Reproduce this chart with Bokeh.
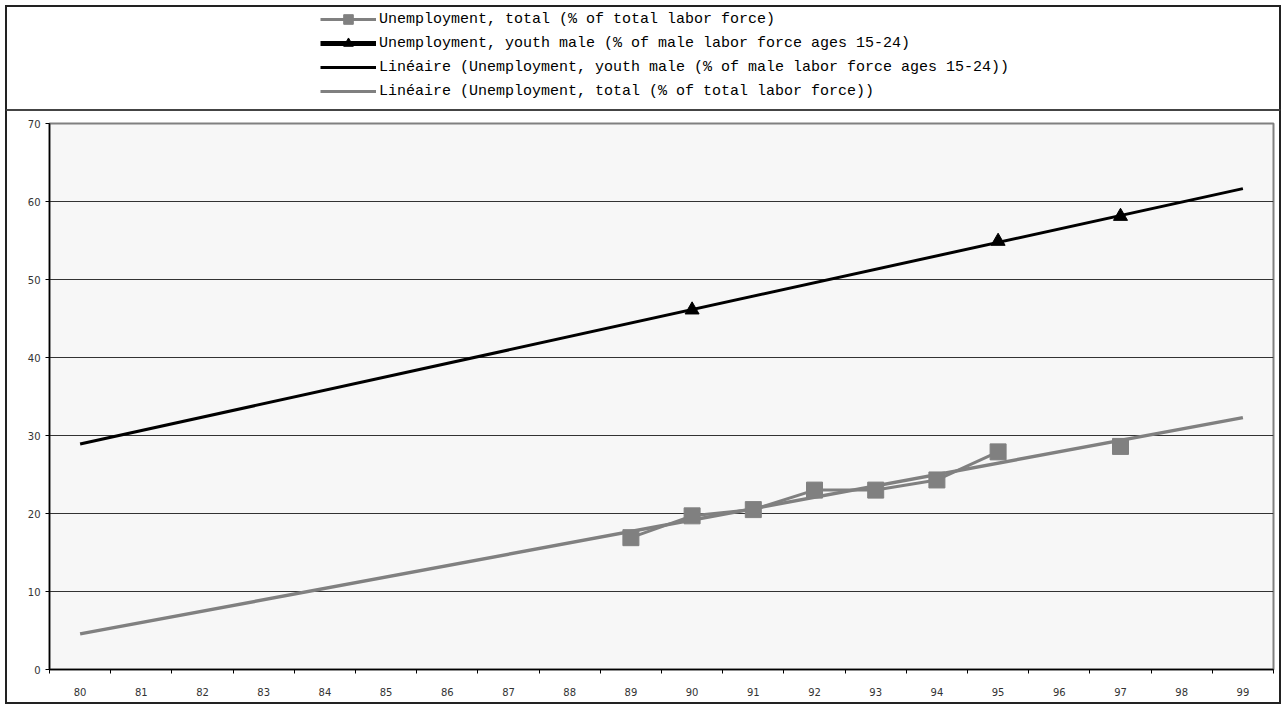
import numpy as np
from bokeh.plotting import figure
from bokeh.models import Range1d, FixedTicker, Legend, LegendItem
from bokeh.layouts import column
from bokeh.embed import file_html
from bokeh.resources import INLINE

nan = float("nan")

# ---- data ----
years = list(range(80, 100))
year_labels = [str(y) for y in years]
total_unemp = [nan, nan, nan, nan, nan, nan, nan, nan, nan,
               16.9, 19.7, 20.5, 23.0, 23.0, 24.3, 27.9, nan, 28.6, nan, nan]
youth_male = [nan, nan, nan, nan, nan, nan, nan, nan, nan, nan,
              46.1, nan, nan, nan, nan, 54.9, nan, 58.1, nan, nan]
y_ticks = [0, 10, 20, 30, 40, 50, 60, 70]

lbl_total = "Unemployment, total (% of total labor force)"
lbl_youth = "Unemployment, youth male (% of male labor force ages 15-24)"
lbl_trend_youth = "Linéaire (Unemployment, youth male (% of male labor force ages 15-24))"
lbl_trend_total = "Linéaire (Unemployment, total (% of total labor force))"

GRAY = "#808080"
BLACK = "#000000"


def trend(xs, ys):
    xs = np.asarray(xs, float)
    ys = np.asarray(ys, float)
    m = ~np.isnan(ys)
    a, b = np.polyfit(xs[m], ys[m], 1)
    ends = [xs[0], xs[-1]]
    return ends, [a * e + b for e in ends]


tx_total, ty_total = trend(years, total_unemp)
tx_youth, ty_youth = trend(years, youth_male)

# ---- chart figure ----
p = figure(width=1276, height=594, output_backend="svg", toolbar_location=None,
           x_range=Range1d(years[0] - 0.5, years[-1] + 0.5),
           y_range=Range1d(y_ticks[0], y_ticks[-1]),
           min_border_left=42, min_border_right=10, min_border_top=12, min_border_bottom=36)
p.styles = {"border": "2px solid #222", "border-top": "1px solid #444"}
p.background_fill_color = "#f7f7f7"
p.border_fill_color = "white"
p.outline_line_color = GRAY
p.outline_line_width = 2

p.xaxis.ticker = FixedTicker(ticks=years, minor_ticks=[y - 0.5 for y in years] + [years[-1] + 0.5])
p.xaxis.major_label_overrides = {y: l for y, l in zip(years, year_labels)}
p.xaxis.major_tick_out = 0
p.xaxis.major_tick_in = 0
p.xaxis.minor_tick_out = 4
p.xaxis.minor_tick_in = 0
p.xaxis.minor_tick_line_color = BLACK
p.xaxis.major_label_standoff = 14

p.yaxis.ticker = FixedTicker(ticks=y_ticks)
p.yaxis.major_tick_out = 4
p.yaxis.major_tick_in = 0
p.yaxis.minor_tick_line_color = None
p.yaxis.major_label_standoff = 5

for ax in (p.xaxis[0], p.yaxis[0]):
    ax.axis_line_color = BLACK
    ax.axis_line_width = 1.5
    ax.major_tick_line_color = BLACK
    ax.major_label_text_font = "DejaVu Sans"
    ax.major_label_text_font_size = "10px"
    ax.major_label_text_color = "#333333"

p.xgrid.visible = False
p.ygrid.ticker = FixedTicker(ticks=y_ticks)
p.ygrid.grid_line_color = "#333333"
p.ygrid.grid_line_width = 1

p.line(tx_youth, ty_youth, line_color=BLACK, line_width=3)
p.line(tx_total, ty_total, line_color=GRAY, line_width=3.5)
p.line(years, total_unemp, line_color=GRAY, line_width=3)
p.scatter(years, total_unemp, marker="square", size=16, fill_color=GRAY, line_color=GRAY)
p.line(years, youth_male, line_color=BLACK, line_width=5)
p.scatter(years, youth_male, marker="triangle", size=14, fill_color=BLACK, line_color=BLACK)

# ---- legend figure ----
lf = figure(width=1276, height=105, output_backend="svg", toolbar_location=None,
            x_range=Range1d(0, 1), y_range=Range1d(0, 1), min_border=0)
lf.styles = {"border": "2px solid #222", "border-bottom": "1px solid #444"}
lf.axis.visible = False
lf.grid.visible = False
lf.outline_line_color = None
lf.background_fill_color = "white"
lf.border_fill_color = "white"

# swatch renderers (kept off-range, used only for legend glyphs)
off_x = [-5, -4]
off_y = [-5, -5]
r1l = lf.line(off_x, off_y, line_color=GRAY, line_width=3)
r1s = lf.scatter(off_x, off_y, marker="square", size=13, fill_color=GRAY, line_color=GRAY)
r2l = lf.line(off_x, off_y, line_color=BLACK, line_width=5)
r2s = lf.scatter(off_x, off_y, marker="triangle", size=14, fill_color=BLACK, line_color=BLACK)
r3 = lf.line(off_x, off_y, line_color=BLACK, line_width=3)
r4 = lf.line(off_x, off_y, line_color=GRAY, line_width=3)

legend = Legend(items=[
    LegendItem(label=lbl_total, renderers=[r1l, r1s]),
    LegendItem(label=lbl_youth, renderers=[r2l, r2s]),
    LegendItem(label=lbl_trend_youth, renderers=[r3]),
    LegendItem(label=lbl_trend_total, renderers=[r4]),
], location=(271, 9), orientation="vertical",
    glyph_width=56, glyph_height=24, label_height=24, spacing=0,
    label_standoff=3, padding=0, margin=0,
    border_line_color=None, background_fill_alpha=0,
    label_text_font="Liberation Mono", label_text_font_size="15px",
    label_text_color=BLACK)
lf.add_layout(legend, "center")

layout = column(lf, p, spacing=0, margin=(5, 0, 0, 5))
open("out.html", "w").write(file_html(layout, INLINE))
